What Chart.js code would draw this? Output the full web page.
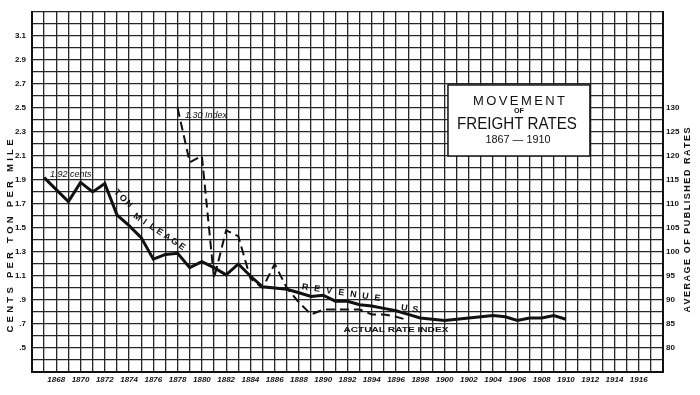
<!DOCTYPE html>
<html><head><meta charset="utf-8">
<script src="https://cdn.jsdelivr.net/npm/chart.js@4"></script>
<style>html,body{margin:0;padding:0;background:#fff}#wrap{width:700px;height:395px;position:relative}</style>
</head><body><div id="wrap"><canvas id="c"></canvas></div>
<script>
// ---- data ----
const revenueYears = [1867,1868,1869,1870,1871,1872,1873,1874,1875,1876,1877,1878,1879,1880,1881,1882,1883,1884,1885,1886,1887,1888,1889,1890,1891,1892,1893,1894,1895,1896,1897,1898,1899,1900,1901,1902,1903,1904,1905,1906,1907,1908,1909,1910];
const revenueCents = [1.92,1.82,1.72,1.88,1.80,1.87,1.61,1.52,1.42,1.24,1.28,1.29,1.17,1.22,1.17,1.11,1.20,1.10,1.01,1.00,0.99,0.96,0.93,0.94,0.89,0.89,0.86,0.85,0.83,0.81,0.78,0.75,0.74,0.73,0.74,0.75,0.76,0.77,0.76,0.73,0.75,0.75,0.77,0.74];
const indexYears = [1878,1879,1880,1881,1882,1883,1884,1885,1886,1887,1888,1889,1890,1891,1892,1893,1894,1895,1896,1897];
const rateIndex = [130,118.7,120,94.5,104.5,103.3,94.5,92.5,97.5,92.5,89.5,87,88,88,88,88,87,87,86.5,85.8];
const yearTickLabels = [1868,1870,1872,1874,1876,1878,1880,1882,1884,1886,1888,1890,1892,1894,1896,1898,1900,1902,1904,1906,1908,1910,1912,1914,1916];
const centTickLabels = ['.5','.7','.9','1.1','1.3','1.5','1.7','1.9','2.1','2.3','2.5','2.7','2.9','3.1'];
const indexTickLabels = [80,85,90,95,100,105,110,115,120,125,130];

const INK = '#111';
const GRID = '#262626';
const FONT = "'Liberation Sans', Arial, sans-serif";

function spaced(ctx, text, x, y, angleDeg, step, font) {
  ctx.save(); ctx.translate(x, y); ctx.rotate(angleDeg * Math.PI / 180);
  ctx.font = font; ctx.textAlign = 'center'; ctx.textBaseline = 'middle';
  for (let i = 0; i < text.length; i++) ctx.fillText(text[i], i * step, 0);
  ctx.restore();
}
// draw text centred at (cx,cy), spreading characters so the whole run spans `length`
function spreadCentered(ctx, text, cx, cy, length, font, angleDeg) {
  ctx.save(); ctx.translate(cx, cy); ctx.rotate((angleDeg || 0) * Math.PI / 180);
  ctx.font = font; ctx.textAlign = 'left'; ctx.textBaseline = 'middle';
  const widths = [...text].map(ch => ctx.measureText(ch).width);
  const natural = widths.reduce((a, b) => a + b, 0);
  const gap = (length - natural) / (text.length - 1);
  let x = -length / 2;
  [...text].forEach((ch, i) => { ctx.fillText(ch, x, 0); x += widths[i] + gap; });
  ctx.restore();
}
function fitted(ctx, text, cx, cy, width, font, angleDeg) {
  ctx.save(); ctx.translate(cx, cy); ctx.rotate((angleDeg || 0) * Math.PI / 180);
  ctx.font = font; ctx.textAlign = 'center'; ctx.textBaseline = 'middle';
  const w = ctx.measureText(text).width;
  ctx.scale(width / w, 1);
  ctx.fillText(text, 0, 0);
  ctx.restore();
}

const annotate = {
  id: 'annotate',
  beforeDraw(chart) {
    const ctx = chart.ctx;
    ctx.save(); ctx.fillStyle = '#fff'; ctx.fillRect(0, 0, chart.width, chart.height); ctx.restore();
  },
  afterDraw(chart) {
    const ctx = chart.ctx, xs = chart.scales.x, ys = chart.scales.y;
    const X = v => xs.getPixelForValue(v), Y = v => ys.getPixelForValue(v);
    ctx.save();
    // title box
    const bx0 = X(1900.28), bx1 = X(1911.98), by0 = Y(2.692), by1 = Y(2.10);
    ctx.fillStyle = '#fff'; ctx.fillRect(bx0, by0, bx1 - bx0, by1 - by0);
    ctx.strokeStyle = INK; ctx.lineWidth = 1.5; ctx.strokeRect(bx0, by0, bx1 - bx0, by1 - by0);
    ctx.fillStyle = INK;
    const cx = (bx0 + bx1) / 2;
    spreadCentered(ctx, 'MOVEMENT', cx, by0 + 16, 92, '500 13px ' + FONT);
    fitted(ctx, 'OF', cx, by0 + 26, 10, '600 7px ' + FONT);
    fitted(ctx, 'FREIGHT RATES', cx - 2, by0 + 40, 120, '16px ' + FONT);
    fitted(ctx, '1867 \u2014 1910', cx - 1, by0 + 55, 65, '500 11px ' + FONT);
    // axis titles
    spreadCentered(ctx, 'CENTS PER TON PER MILE', 10, 236, 193, 'bold 9.5px ' + FONT, -90);
    spreadCentered(ctx, 'AVERAGE OF PUBLISHED RATES', 688, 220, 185, 'bold 9px ' + FONT, -90);
    // line labels
    ctx.font = 'italic 9px ' + FONT; ctx.textAlign = 'left'; ctx.textBaseline = 'middle';
    ctx.fillText('1.92 cents', X(1867.48), Y(1.95));
    ctx.fillText('1.30 Index', X(1878.61), Y(2.44));
    spaced(ctx, 'TON', X(1873.03), Y(1.794), 45, 8, 'bold 9px ' + FONT);
    spaced(ctx, 'MILEAGE', X(1874.68), Y(1.589), 33.5, 8.9, 'bold 9px ' + FONT);
    spaced(ctx, 'REVENUE', X(1888.5), Y(1.006), 8.6, 12.2, 'bold 9px ' + FONT);
    fitted(ctx, 'U. S.', X(1897.23), Y(0.825), 20, 'bold 9px ' + FONT, 8);
    fitted(ctx, 'ACTUAL RATE INDEX', X(1895.99), Y(0.65), 105, 'bold 8px ' + FONT);
    ctx.restore();
  }
};

const centValues = centTickLabels.map(s => parseFloat(s));

new Chart(document.getElementById('c'), {
  type: 'line',
  data: {
    datasets: [
      {
        label: 'Revenue per ton mile (cents)',
        data: revenueYears.map((y, i) => ({ x: y, y: revenueCents[i] })),
        yAxisID: 'y', borderColor: INK, borderWidth: 3, pointRadius: 0, tension: 0, fill: false,
        borderJoinStyle: 'miter'
      },
      {
        label: 'Actual rate index',
        data: indexYears.map((y, i) => ({ x: y, y: rateIndex[i] })),
        yAxisID: 'y2', borderColor: INK, borderWidth: 2, borderDash: [9, 5], pointRadius: 0, tension: 0, fill: false
      }
    ]
  },
  options: {
    responsive: true, maintainAspectRatio: false, animation: false,
    layout: { padding: { top: 12, left: 0, right: 0, bottom: 0 } },
    plugins: { legend: { display: false }, tooltip: { enabled: false } },
    scales: {
      x: {
        type: 'linear', min: 1866, max: 1918,
        afterFit: s => { s.height = 23; },
        grid: { color: GRID, lineWidth: 1.3, drawTicks: false },
        border: { display: true, color: INK, width: 2 },
        ticks: {
          stepSize: 1, autoSkip: false, maxRotation: 0, maxTicksLimit: 100, padding: 3,
          color: INK, font: { family: FONT, size: 8, style: 'italic', weight: 'bold' },
          callback: v => yearTickLabels.includes(Math.round(v)) ? String(Math.round(v)) : ''
        }
      },
      y: {
        type: 'linear', position: 'left', min: 0.3, max: 3.3,
        afterFit: s => { s.width = 32; },
        grid: { color: GRID, lineWidth: 1.3, drawTicks: false },
        border: { display: true, color: INK, width: 2 },
        ticks: {
          stepSize: 0.1, autoSkip: false, maxTicksLimit: 100, padding: 6,
          color: INK, font: { family: FONT, size: 8, weight: 'bold' },
          callback: v => {
            const r = Math.round(v * 10) / 10;
            const i = centValues.findIndex(c => Math.abs(c - r) < 1e-6);
            return i >= 0 ? centTickLabels[i] : '';
          }
        }
      },
      y2: {
        type: 'linear', position: 'right', min: 75, max: 150,
        afterFit: s => { s.width = 37; },
        grid: { display: false, drawTicks: false },
        border: { display: true, color: INK, width: 2 },
        ticks: {
          stepSize: 5, autoSkip: false, maxTicksLimit: 100, padding: 3,
          color: INK, font: { family: FONT, size: 8, weight: 'bold' },
          callback: v => indexTickLabels.includes(Math.round(v)) ? String(Math.round(v)) : ''
        }
      }
    }
  },
  plugins: [annotate]
});
</script>
</body></html>
